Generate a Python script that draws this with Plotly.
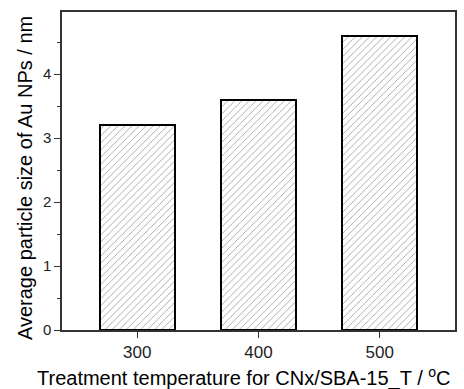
import plotly.graph_objects as go

# Treatment temperature (°C) and mean Au nanoparticle size (nm)
temperatures = [300, 400, 500]
particle_size = [3.2, 3.6, 4.6]
y_tick_vals = [0, 1, 2, 3, 4]

FONT = "Liberation Sans, Arial, sans-serif"

fig = go.Figure()
fig.add_trace(go.Bar(
    x=temperatures,
    y=particle_size,
    width=62,
    marker=dict(
        color="white",
        line=dict(color="black", width=2),
        pattern=dict(shape="/", size=5, solidity=0.16,
                     fgcolor="#9a9a9a", bgcolor="white", fillmode="replace"),
    ),
    showlegend=False,
))

axis_common = dict(
    showline=True, linecolor="#333333", linewidth=1.5, mirror=True,
    showgrid=False, zeroline=False, ticks="outside", tickcolor="#333333",
    ticklen=6, tickwidth=1.2,
    tickfont=dict(family=FONT, size=17, color="#222222"),
)

fig.update_xaxes(
    range=[238, 562], tickvals=temperatures, **axis_common,
)
fig.update_yaxes(
    range=[0, 4.97], tickvals=y_tick_vals, tickfont_size=15,
    minor=dict(ticks="outside", dtick=0.5, ticklen=3, tickcolor="#333333", tickwidth=1.2),
    **{k: v for k, v in axis_common.items() if k != "tickfont"},
)
fig.update_yaxes(tickfont=dict(family=FONT, size=15, color="#222222"))

fig.add_annotation(
    text="Treatment temperature for CNx/SBA-15_T / <sup>o</sup>C",
    xref="paper", yref="paper", x=0.463, y=-0.148, xanchor="center", yanchor="middle",
    showarrow=False, font=dict(family=FONT, size=20, color="black"),
)
fig.add_annotation(
    text="Average particle size of Au NPs / nm",
    xref="paper", yref="paper", x=-0.094, y=0.478, xanchor="center", yanchor="middle",
    textangle=-90, showarrow=False, font=dict(family=FONT, size=20, color="black"),
)

fig.update_layout(
    width=464, height=389,
    margin=dict(l=62, r=7, t=12, b=59),
    plot_bgcolor="white", paper_bgcolor="white",
    bargap=0,
)

fig.write_html("out.html")
